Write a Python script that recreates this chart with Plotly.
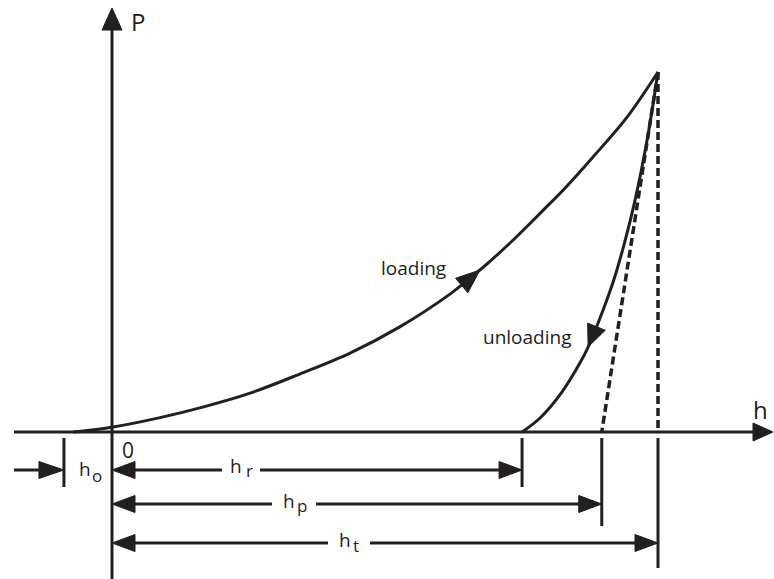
import math
import plotly.graph_objects as go

INK = "#231f20"
FONT = "Open Sans"

# Indentation load-displacement record, normalised so that h_t = 1 and P_max = 1
load_h = [-0.071, 0.002, 0.088, 0.161, 0.253, 0.344, 0.436, 0.527, 0.619, 0.674,
          0.729, 0.789, 0.830, 0.881, 0.943, 1.000]
load_p = [0.000, 0.014, 0.040, 0.067, 0.108, 0.161, 0.219, 0.292, 0.383, 0.450,
          0.525, 0.615, 0.678, 0.764, 0.874, 1.000]

unload_h = [0.751, 0.784, 0.824, 0.859, 0.872, 0.896, 0.919, 0.940, 0.958, 0.980, 1.000]
unload_p = [0.000, 0.039, 0.111, 0.197, 0.236, 0.325, 0.422, 0.533, 0.644, 0.811, 1.000]

# Characteristic depths
depth_names = ["o", "r", "p", "t"]
depth_vals = [-0.088, 0.751, 0.897, 1.000]
h_o, h_r, h_p, h_t = depth_vals
p_max = 1.0

# Canvas geometry: pixel position of the origin and pixels per unit
W, H = 774, 579
OX, OY = 112, 432
SX, SY = 546.0, 360.0


def hx(px):
    """Horizontal canvas pixel -> h units."""
    return (px - OX) / SX


def py(px):
    """Vertical canvas pixel -> P units."""
    return (OY - px) / SY


fig = go.Figure()


def line(xs, ys, width=3, dash=None, shape="linear"):
    fig.add_trace(go.Scatter(
        x=xs, y=ys, mode="lines",
        line=dict(color=INK, width=width, dash=dash, shape=shape),
        hoverinfo="skip", showlegend=False))


def head(tip_h, tip_p, dx, dy, length=23, half=8.5):
    """Filled arrowhead with its tip at (tip_h, tip_p), pointing along the
    screen direction (dx, dy) (y pointing down)."""
    n = math.hypot(dx, dy)
    ux, uy = dx / n, dy / n
    nx, ny = -uy, ux
    pts = [(0, 0),
           (-ux * length + nx * half, -uy * length + ny * half),
           (-ux * length - nx * half, -uy * length - ny * half),
           (0, 0)]
    fig.add_trace(go.Scatter(
        x=[tip_h + a / SX for a, b in pts],
        y=[tip_p - b / SY for a, b in pts],
        mode="lines", fill="toself", fillcolor=INK,
        line=dict(color=INK, width=1),
        hoverinfo="skip", showlegend=False))


def data_dir(hs, ps, i0, i1):
    """Screen direction from point i0 to point i1 of a curve."""
    return ((hs[i1] - hs[i0]) * SX, -(ps[i1] - ps[i0]) * SY)


# Axes
line([hx(14), hx(756)], [0, 0])
head(hx(773), 0, 1, 0, length=20, half=9)
line([0, 0], [py(H), py(28)])
head(0, py(8), 0, -1, length=22, half=10)

# Loading and unloading branches
line(load_h, load_p, shape="spline")
line(unload_h, unload_p, shape="spline")

ia = 9
head(load_h[ia], load_p[ia], *data_dir(load_h, load_p, ia - 1, ia + 1), length=24, half=9.5)
iu = 4
head(unload_h[iu], unload_p[iu], *data_dir(unload_h, unload_p, iu + 1, iu), length=22, half=9.5)

# Tangent at peak load and the vertical through h_t
line([h_t, h_p], [p_max, 0], width=3.5, dash="8px,4px")
line([h_t, h_t], [p_max, 0], width=3.5, dash="8px,4px")

# Ticks below the h axis
tick_top = py(438)
tick_bottom = {"o": py(487), "r": py(487), "p": py(526), "t": py(568)}
for name, val in zip(depth_names, depth_vals):
    line([val, val], [tick_top, tick_bottom[name]])

# Dimension arrows, broken where the label sits
rows = {"r": py(470), "p": py(504), "t": py(543)}
gaps = {"r": (222, 260), "p": (272, 316), "t": (328, 370)}
for name, val in zip(depth_names, depth_vals):
    if name == "o":
        continue
    y = rows[name]
    g0, g1 = gaps[name]
    line([hx(130), hx(g0)], [y, y])
    line([hx(g1), val - 20 / SX], [y, y])
    head(0, y, -1, 0)
    head(val, y, 1, 0)

line([hx(14), h_o - 20 / SX], [rows["r"], rows["r"]])
head(h_o, rows["r"], 1, 0, length=25)

# Text
ann = []


def label(text, x, y, size, xanchor="center"):
    ann.append(dict(
        x=x, y=y, xref="x", yref="y", text=text, showarrow=False,
        xanchor=xanchor, yanchor="middle",
        font=dict(family=FONT, size=size, color=INK)))


label("P", hx(137.5), py(21), 24)
label("h", hx(760), py(409), 24)
label("0", hx(128), py(450), 21)
label("loading", hx(413), py(268), 19)
label("unloading", hx(527), py(337), 19)

# depth symbols: h with a lowered subscript letter
symbol_pos = {  # (h x, h centre y, sub x, sub centre y)
    "o": (77, 468.5, 90, 475),
    "r": (228, 466, 244, 470.5),
    "p": (281, 501, 295, 505),
    "t": (337, 539.5, 351, 545),
}
for name in depth_names:
    x0, y0, x1, y1 = symbol_pos[name]
    label("h", hx(x0), py(y0), 19, xanchor="left")
    label(name, hx(x1), py(y1), 17, xanchor="left")

fig.update_layout(
    width=W, height=H,
    margin=dict(l=0, r=0, t=0, b=0),
    paper_bgcolor="white", plot_bgcolor="white",
    xaxis=dict(visible=False, range=[hx(0), hx(W)], fixedrange=True),
    yaxis=dict(visible=False, range=[py(H), py(0)], fixedrange=True),
    annotations=ann,
    showlegend=False,
)

fig.write_html("out.html")
